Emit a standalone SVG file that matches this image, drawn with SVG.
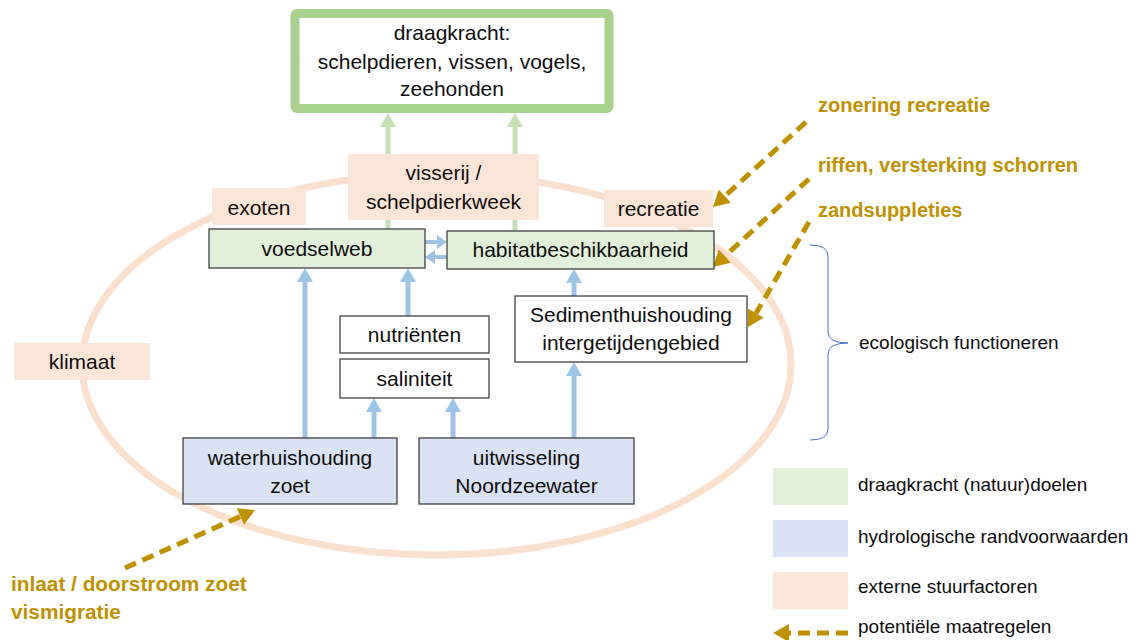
<svg xmlns="http://www.w3.org/2000/svg" width="1139" height="640" viewBox="0 0 1139 640">
<style>
text{font-family:"Liberation Sans",Arial,sans-serif;fill:#0d0d0d}
.t{font-size:21px;text-anchor:middle}
.l{font-size:19px}
.g{font-size:20px;font-weight:bold;fill:#bf9000}
.g2{font-size:20.8px}
.box{stroke:#404040;stroke-width:1.3}
.gr{fill:#e2f0d9}.bl{fill:#dae3f3}.pe{fill:#fbe5d6}.wh{fill:#fff}
.ba{stroke:#9dc3e6;stroke-width:5;fill:none;marker-end:url(#mb)}
.bs{stroke:#9dc3e6;stroke-width:4;fill:none;marker-end:url(#mbs)}
.ga{stroke:#c5e0b4;stroke-width:5;fill:none;marker-end:url(#mg)}
.da{stroke:#bf9000;stroke-width:5;fill:none;stroke-dasharray:12 7;marker-end:url(#md)}
</style>
<defs>
<marker id="mb" markerUnits="userSpaceOnUse" markerWidth="16" markerHeight="16" viewBox="0 0 14 16" refX="0" refY="8" orient="auto"><path d="M0,0L14,8L0,16z" fill="#9dc3e6"/></marker>
<marker id="mbs" markerUnits="userSpaceOnUse" markerWidth="12" markerHeight="14" viewBox="0 0 10 14" refX="0" refY="7" orient="auto"><path d="M0,0L10,7L0,14z" fill="#9dc3e6"/></marker>
<marker id="mg" markerUnits="userSpaceOnUse" markerWidth="16" markerHeight="16" viewBox="0 0 14 16" refX="0" refY="8" orient="auto"><path d="M0,0L14,8L0,16z" fill="#c5e0b4"/></marker>
<marker id="md" markerUnits="userSpaceOnUse" markerWidth="18" markerHeight="18" viewBox="0 0 16 18" refX="0" refY="9" orient="auto"><path d="M0,0L16,9L0,18z" fill="#bf9000"/></marker>
</defs>
<rect width="1139" height="640" fill="#fff"/>
<ellipse cx="436.5" cy="364.5" rx="354.5" ry="190.5" fill="none" stroke="#fbe0ce" stroke-width="7"/>

<g id="connectors">
<line class="ga" x1="388" y1="229" x2="388" y2="127"/>
<line class="ga" x1="515" y1="231" x2="515" y2="127"/>
<line class="ba" x1="305" y1="438" x2="305" y2="282"/>
<line class="ba" x1="408" y1="316" x2="408" y2="282"/>
<line class="ba" x1="574" y1="296" x2="574" y2="283"/>
<line class="ba" x1="574" y1="438" x2="574" y2="376"/>
<line class="ba" x1="374" y1="438" x2="374" y2="412"/>
<line class="ba" x1="453" y1="438" x2="453" y2="412"/>
<line class="bs" x1="425" y1="242" x2="437" y2="242"/>
<line class="bs" x1="447" y1="257" x2="435" y2="257"/>
<line class="da" x1="806" y1="122" x2="724.8" y2="196.2"/>
<line class="da" x1="809" y1="179" x2="724.8" y2="256.2"/>
<line class="da" x1="809" y1="222" x2="756" y2="313.2"/>
<line class="da" x1="125" y1="568" x2="240.4" y2="516.5"/>
<path d="M810,245Q828,245 828,256L828,332Q828,343 848,343Q828,343 828,354L828,429Q828,440 810,440" fill="none" stroke="#4472c4" stroke-width="1"/>
</g>

<g id="draagkracht">
<rect x="295" y="13.5" width="314" height="95" fill="#fff" stroke="#a9d18e" stroke-width="9" rx="2"/>
<text class="t" x="452" y="40">draagkracht:</text>
<text class="t" x="452" y="69">schelpdieren, vissen, vogels,</text>
<text class="t" x="452" y="96">zeehonden</text>
</g>
<g id="visserij"><rect class="pe" x="348" y="154" width="191" height="66"/>
<text class="t" x="443.5" y="180">visserij /</text><text class="t" x="443.5" y="209">schelpdierkweek</text></g>
<g id="exoten"><rect class="pe" x="212" y="188" width="94" height="37"/><text class="t" x="259" y="215">exoten</text></g>
<g id="recreatie"><rect class="pe" x="604" y="190" width="109" height="37"/><text class="t" x="658.5" y="216">recreatie</text></g>
<g id="klimaat"><rect class="pe" x="14" y="343" width="136" height="37"/><text class="t" x="82" y="369">klimaat</text></g>
<g id="voedselweb"><rect class="box gr" x="209" y="229" width="216" height="39"/><text class="t" x="317" y="256">voedselweb</text></g>
<g id="habitat"><rect class="box gr" x="447" y="231" width="267" height="38"/><text class="t" x="580.5" y="257">habitatbeschikbaarheid</text></g>
<g id="nutrienten"><rect class="box wh" x="340" y="316" width="149" height="37"/><text class="t" x="414.5" y="342">nutriënten</text></g>
<g id="saliniteit"><rect class="box wh" x="340" y="359" width="149" height="39"/><text class="t" x="414.5" y="386">saliniteit</text></g>
<g id="sediment"><rect class="box wh" x="515" y="296" width="232" height="66"/>
<text class="t" x="631" y="322">Sedimenthuishouding</text><text class="t" x="631" y="350">intergetijdengebied</text></g>
<g id="waterhuishouding"><rect class="box bl" x="183" y="438" width="214" height="66"/>
<text class="t" x="290" y="465">waterhuishouding</text><text class="t" x="290" y="493">zoet</text></g>
<g id="uitwisseling"><rect class="box bl" x="419" y="438" width="215" height="66"/>
<text class="t" x="526.5" y="465">uitwisseling</text><text class="t" x="526.5" y="493">Noordzeewater</text></g>

<g id="maatregelen">
<text class="g" x="818" y="111.5">zonering recreatie</text>
<text class="g" x="818" y="171.5">riffen, versterking schorren</text>
<text class="g" x="818" y="216.5">zandsuppleties</text>
<text class="g g2" x="11" y="590.5">inlaat / doorstroom zoet</text>
<text class="g g2" x="11" y="618.5">vismigratie</text>
</g>
<text class="l" x="859" y="349">ecologisch functioneren</text>

<g id="legend">
<rect class="gr" x="773" y="468" width="75" height="37"/>
<text class="l" x="858" y="491">draagkracht (natuur)doelen</text>
<rect class="bl" x="773" y="520" width="75" height="37"/>
<text class="l" x="858" y="543">hydrologische randvoorwaarden</text>
<rect class="pe" x="773" y="572" width="75" height="37"/>
<text class="l" x="858" y="593">externe stuurfactoren</text>
<line class="da" x1="848" y1="633" x2="789" y2="633"/>
<text class="l" x="858" y="633">potentiële maatregelen</text>
</g>
</svg>
